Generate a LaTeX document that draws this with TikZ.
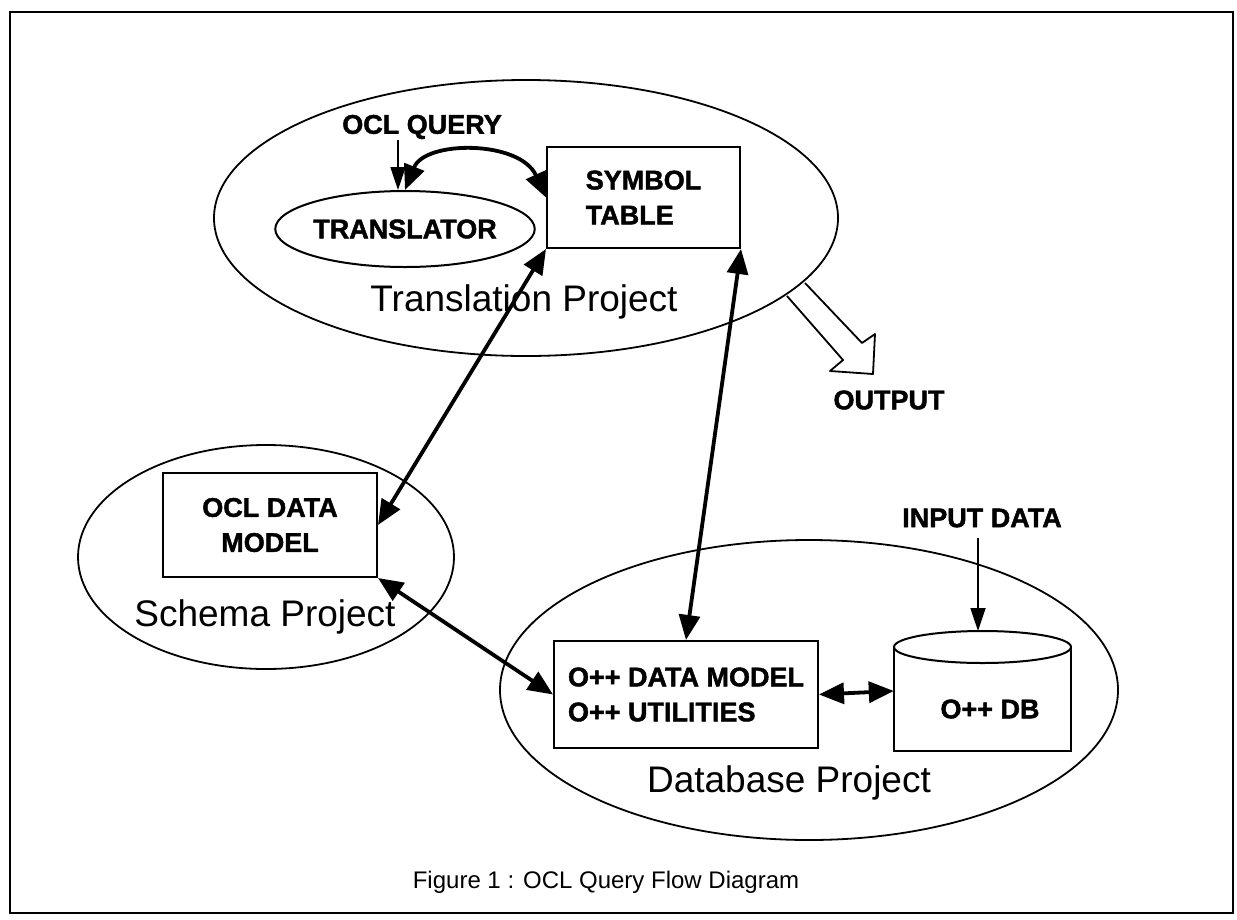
\documentclass[tikz,border=0pt]{standalone}
\usepackage{fontspec}
\setmainfont{Liberation Sans}
\newfontfamily\heavyfont{Liberation Sans}[BoldFeatures={FakeBold=1.6}]
\usetikzlibrary{arrows.meta,shapes.geometric}
\begin{document}
\begin{tikzpicture}[x=1pt,y=-1pt,
  lbl/.style={font=\heavyfont\bfseries\fontsize{27}{35}\selectfont},
  proj/.style={font=\fontsize{37}{40}\selectfont},
  boxnode/.style={draw,line width=2pt,rectangle,inner sep=0pt,lbl},
  region/.style={draw,line width=1.8pt,ellipse,inner sep=0pt},
  dbl/.style={line width=3.8pt,{Triangle[length=25pt,width=21pt]}-{Triangle[length=25pt,width=21pt]}},
  thinarr/.style={line width=1.8pt,-{Triangle[length=23pt,width=15pt]}},
]
\useasboundingbox (0,0) rectangle (1237,919);
% outer frame
\draw[line width=2.4pt] (10,12) rectangle (1233,913);

% project regions
\node[region,minimum width=624,minimum height=276] (tp) at (526,218) {};
\node[region,minimum width=376,minimum height=224] (sp) at (266,557) {};
\node[region,minimum width=618,minimum height=300] (dp) at (809,690) {};

\node[proj] (tpl) at (524,302) {Translation Project};
\node[proj] (spl) at (265,617) {Schema Project};
\node[proj] (dpl) at (789,783) {Database Project};

% components
\node[region,line width=2pt,minimum width=230,minimum height=76,lbl] (tr) at (405,229) {TRANSLATOR};
\node[boxnode,minimum width=193,minimum height=101,align=left] (st) at (643.5,197.5) {SYMBOL\\TABLE};
\node[boxnode,minimum width=214,minimum height=104,align=center] (dm) at (270,525) {OCL DATA\\MODEL};
\node[boxnode,minimum width=264,minimum height=107,align=left] (ou) at (686,694.5) {O++ DATA MODEL\\O++ UTILITIES};

% database drum
\node[minimum width=177,minimum height=120,inner sep=0pt] (db) at (982.5,691) {};
\draw[line width=2pt] (db.west) ++(0,-44) -- (db.south west) -- (db.south east) -- ++(0,-104);
\draw[line width=2pt] (982.5,647) ellipse [x radius=88.5, y radius=16];
\node[lbl] (dbl) at (990,709) {O++ DB};

% external inputs and output
\node[lbl] (q) at (422,127) {OCL QUERY};
\node[lbl] (in) at (982,518) {INPUT DATA};
\node[lbl] (out) at (889,400) {OUTPUT};
\coordinate (qa) at (398,140);
\coordinate (ia) at (978,538);

\draw[thinarr] (qa) -- (qa |- tr.north);
\draw[thinarr] (ia) -- (978,631);

% connectors
\draw[dbl] (tr.north) .. controls (425,140) and (520,140) .. (st.west);
\draw[dbl] (st.south west) -- (dm.east);
\draw[dbl] (st.south east) -- (ou.north);
\draw[dbl] (dm.south east) -- (ou.west);
\draw[dbl] (ou.east) -- (db.west);

% hollow output arrow
\draw[line width=1.8pt,fill=white,line join=round]
  (787,296) -- (843,360) -- (830,371) -- (873,374) -- (875,334) -- (862,343) -- (805,283);

% caption
\node[font=\fontsize{24}{26}\selectfont] (cap) at (606,882) {Figure 1 : OCL Query Flow Diagram};
\end{tikzpicture}
\end{document}
